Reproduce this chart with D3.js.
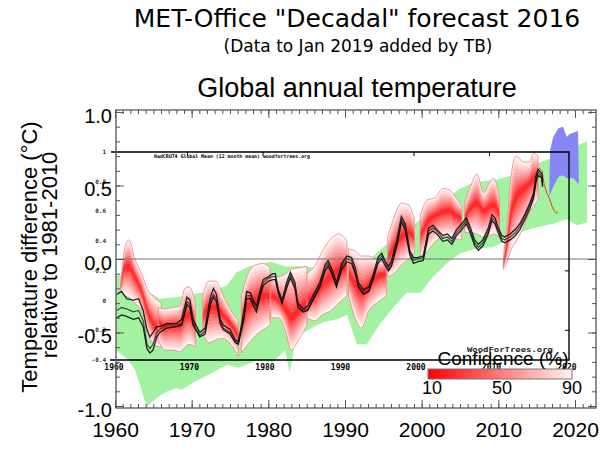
<!DOCTYPE html>
<html>
<head>
<meta charset="utf-8">
<script src="https://cdn.jsdelivr.net/npm/d3@7"></script>
<style>
  body { margin: 0; background: #fff; }
  text { font-family: "Liberation Sans", Arial, sans-serif; }
</style>
</head>
<body>
<script>
// ---- data ----
// obs: year, upper, middle, lower black curves
var obsRows = [
  [1960.1,-0.24,-0.35,-0.40],[1960.75,-0.22,-0.33,-0.38],[1961.4,-0.27,-0.34,-0.39],[1962.3,-0.28,-0.36,-0.41],
  [1963.0,-0.27,-0.35,-0.40],[1963.6,-0.35,-0.42,-0.46],[1964.1,-0.48,-0.58,-0.61],[1964.5,-0.53,-0.61,-0.64],
  [1964.9,-0.50,-0.58,-0.62],[1965.4,-0.46,-0.50,-0.53],[1965.8,-0.46,-0.48,-0.50],[1966.7,-0.44,-0.45,-0.47],
  [1968.0,-0.44,-0.45,-0.46],[1968.7,-0.41,-0.44,-0.45],[1969.4,-0.26,-0.29,-0.31],[1969.8,-0.28,-0.31,-0.33],
  [1970.2,-0.41,-0.43,-0.45],[1971.1,-0.50,-0.52,-0.53],[1971.8,-0.47,-0.49,-0.51],[1972.5,-0.26,-0.29,-0.31],
  [1972.9,-0.20,-0.24,-0.26],[1973.3,-0.24,-0.27,-0.29],[1973.8,-0.41,-0.42,-0.44],[1974.2,-0.45,-0.47,-0.48],
  [1975.1,-0.48,-0.50,-0.51],[1975.8,-0.55,-0.56,-0.57],[1976.2,-0.56,-0.57,-0.58],[1976.9,-0.37,-0.40,-0.42],
  [1977.3,-0.22,-0.25,-0.27],[1977.8,-0.23,-0.25,-0.27],[1978.2,-0.28,-0.30,-0.32],[1978.6,-0.32,-0.34,-0.36],
  [1979.1,-0.21,-0.23,-0.25],[1979.5,-0.14,-0.16,-0.18],[1980.2,-0.12,-0.13,-0.15],[1980.8,-0.10,-0.12,-0.14],
  [1981.1,-0.10,-0.12,-0.14],[1981.5,-0.21,-0.22,-0.23],[1982.0,-0.28,-0.29,-0.30],[1982.6,-0.16,-0.18,-0.20],
  [1983.1,-0.09,-0.11,-0.13],[1983.7,-0.16,-0.18,-0.20],[1984.1,-0.30,-0.31,-0.33],[1984.8,-0.34,-0.35,-0.36],
  [1985.4,-0.32,-0.34,-0.35],[1986.1,-0.25,-0.27,-0.28],[1987.0,-0.16,-0.18,-0.19],[1987.7,-0.04,-0.06,-0.08],
  [1988.1,-0.01,-0.03,-0.05],[1988.6,-0.07,-0.09,-0.10],[1989.2,-0.16,-0.18,-0.19],[1989.9,-0.03,-0.05,-0.07],
  [1990.6,0.02,0.00,-0.02],[1991.2,0.01,-0.01,-0.03],[1991.7,-0.06,-0.08,-0.10],[1992.1,-0.16,-0.18,-0.19],
  [1992.8,-0.21,-0.23,-0.24],[1993.5,-0.19,-0.21,-0.22],[1994.1,-0.10,-0.12,-0.13],[1994.7,0.01,-0.01,-0.03],
  [1995.2,0.04,0.02,0.00],[1995.6,-0.01,-0.02,-0.04],[1996.1,-0.05,-0.07,-0.08],[1996.5,-0.01,-0.03,-0.05],
  [1997.2,0.13,0.11,0.09],[1997.8,0.29,0.27,0.25],[1998.3,0.24,0.22,0.20],[1998.9,0.06,0.05,0.03],
  [1999.4,0.01,-0.01,-0.03],[1999.9,0.01,0.00,-0.02],[2000.7,0.02,0.01,-0.01],[2001.4,0.21,0.19,0.17],
  [2002.0,0.23,0.21,0.19],[2002.5,0.20,0.19,0.17],[2003.3,0.16,0.14,0.12],[2003.9,0.17,0.15,0.13],
  [2004.5,0.14,0.12,0.10],[2005.1,0.20,0.18,0.16],[2005.8,0.24,0.22,0.20],[2006.4,0.28,0.26,0.24],
  [2006.9,0.22,0.20,0.18],[2007.5,0.13,0.11,0.09],[2008.0,0.10,0.08,0.06],[2008.6,0.13,0.11,0.09],
  [2009.3,0.21,0.19,0.17],[2009.8,0.30,0.28,0.26],[2010.2,0.28,0.26,0.24],[2010.6,0.22,0.20,0.18],
  [2011.1,0.16,0.14,0.12],[2011.5,0.15,0.13,0.11],[2012.2,0.17,0.15,0.13],[2012.9,0.20,0.18,0.16],
  [2013.5,0.24,0.22,0.20],[2014.2,0.31,0.29,0.27],[2014.8,0.38,0.36,0.34],[2015.3,0.45,0.43,0.41],
  [2015.6,0.56,0.54,0.52],[2015.9,0.61,0.59,0.57],[2016.4,0.58,0.56,0.55],[2016.5,0.52,0.50,0.49]
];

// WoodForTrees data to Jan 2019 (red)
var wftRows = [
  [2012.2,0.18],[2012.9,0.21],[2013.5,0.25],[2014.2,0.32],[2014.8,0.39],[2015.3,0.46],[2015.6,0.57],
  [2015.9,0.62],[2016.3,0.60],[2016.6,0.50],[2017.0,0.44],[2017.3,0.41],[2017.6,0.36],[2017.9,0.33],
  [2018.2,0.31],[2018.4,0.32]
];

// green band edges
var greenUpper = [
  [1960.0,-0.11],[1961.5,-0.12],[1963.6,-0.20],[1965.8,-0.27],[1968.1,-0.26],[1970.2,-0.24],[1972.5,-0.22],
  [1974.7,-0.18],[1976.0,-0.09],[1977.7,-0.05],[1980.4,-0.02],[1982.4,-0.05],[1984.8,-0.05],[1987.4,-0.07],
  [1991.0,-0.04],[1993.6,0.00],[1995.4,0.08],[1997.0,0.15],[1999.0,0.22],[2001.2,0.30],[2002.5,0.36],
  [2005.6,0.48],[2007.3,0.52],[2010.5,0.54],[2012.6,0.57],[2015.8,0.65],[2017.9,0.69],[2020.5,0.76],[2022.4,0.80]
];
var greenLower = [
  [1960.0,-0.62],[1961.5,-0.68],[1962.5,-0.75],[1963.2,-0.86],[1964.1,-1.01],[1964.6,-0.98],[1965.8,-0.93],
  [1966.8,-0.90],[1968.0,-0.88],[1968.7,-0.89],[1970.2,-0.84],[1972.5,-0.78],[1974.7,-0.72],[1976.2,-0.74],
  [1978.7,-0.69],[1980.8,-0.70],[1982.4,-0.62],[1983.0,-0.77],[1983.7,-0.58],[1984.8,-0.50],[1987.4,-0.43],
  [1989.3,-0.41],[1990.6,-0.38],[1991.9,-0.58],[1993.2,-0.58],[1995.0,-0.44],[1996.7,-0.33],[1998.5,-0.23],
  [2000.3,-0.23],[2002.0,-0.12],[2003.8,-0.03],[2005.6,0.04],[2007.8,0.07],[2009.9,0.08],[2011.8,0.13],
  [2013.5,0.18],[2015.2,0.21],[2017.9,0.24],[2019.7,0.27],[2021.1,0.23],[2022.4,0.25]
];

// blue forecast band: year, low, high
var blueRows = [
  [2017.4,0.42,0.50],[2017.5,0.44,0.74],[2017.9,0.49,0.83],[2018.6,0.56,0.89],[2019.2,0.57,0.90],
  [2019.7,0.55,0.83],[2020.1,0.55,0.85],[2020.6,0.55,0.86],[2021.2,0.51,0.87],[2021.3,0.52,0.55]
];

// hindcast plumes: year, low, centre, high
var plumes = [
  [[1960.6,-0.22,-0.20,-0.18],[1961.2,-0.25,-0.05,0.08],[1961.7,-0.26,-0.05,0.13],[1962.5,-0.30,-0.12,0.00],
   [1963.4,-0.35,-0.22,-0.10],[1964.2,-0.50,-0.36,-0.21],[1965.0,-0.58,-0.45,-0.26],[1966.0,-0.60,-0.48,-0.30]],
  [[1965.6,-0.55,-0.42,-0.33],[1966.5,-0.62,-0.46,-0.34],[1967.5,-0.62,-0.45,-0.33],[1968.5,-0.63,-0.45,-0.32],
   [1969.1,-0.60,-0.40,-0.20],[1969.7,-0.58,-0.38,-0.19],[1970.5,-0.60,-0.45,-0.30]],
  [[1971.5,-0.50,-0.40,-0.25],[1972.3,-0.57,-0.33,-0.15],[1973.2,-0.55,-0.33,-0.15],[1974.2,-0.54,-0.38,-0.25],
   [1975.2,-0.58,-0.44,-0.35],[1976.2,-0.66,-0.52,-0.42]],
  [[1976.6,-0.64,-0.45,-0.25],[1977.5,-0.58,-0.32,-0.10],[1978.5,-0.52,-0.28,-0.04],[1979.5,-0.48,-0.25,-0.03],
   [1980.4,-0.45,-0.25,-0.06]],
  [[1980.5,-0.40,-0.25,-0.10],[1981.5,-0.40,-0.28,-0.12],[1982.5,-0.50,-0.35,-0.10],[1983.2,-0.62,-0.40,-0.07],
   [1984.2,-0.55,-0.35,-0.06],[1985.3,-0.45,-0.30,-0.05]],
  [[1985.3,-0.40,-0.28,-0.10],[1986.3,-0.42,-0.25,-0.05],[1987.3,-0.38,-0.18,0.05],[1988.5,-0.35,-0.12,0.14],
   [1989.5,-0.30,-0.08,0.17],[1990.6,-0.25,-0.05,0.12]],
  [[1990.8,-0.25,-0.10,0.07],[1991.8,-0.42,-0.18,0.05],[1992.5,-0.47,-0.22,0.02],[1993.5,-0.35,-0.18,0.02],
   [1994.5,-0.30,-0.12,0.00],[1995.8,-0.25,-0.10,0.00]],
  [[1996.0,-0.12,0.00,0.15],[1996.8,-0.10,0.08,0.28],[1997.8,-0.04,0.15,0.38],[1998.7,0.00,0.18,0.37],
   [1999.5,0.04,0.15,0.28]],
  [[2000.3,0.02,0.15,0.30],[2001.2,0.05,0.25,0.40],[2002.3,0.12,0.30,0.42],[2003.3,0.15,0.32,0.48],
   [2004.2,0.15,0.33,0.47],[2005.0,0.14,0.30,0.42],[2005.8,0.13,0.28,0.36]],
  [[2006.2,0.18,0.28,0.38],[2007.0,0.18,0.35,0.50],[2007.8,0.17,0.38,0.58],[2008.7,0.15,0.33,0.45],
   [2009.5,0.16,0.36,0.52],[2010.0,0.17,0.37,0.55],[2010.8,0.15,0.30,0.42]],
  [[2011.3,-0.07,-0.04,0.00],[2011.8,-0.02,0.10,0.25],[2012.3,0.06,0.30,0.55],[2013.0,0.12,0.42,0.70],
   [2014.0,0.22,0.48,0.66],[2014.8,0.32,0.52,0.66],[2015.3,0.36,0.55,0.72],[2015.9,0.40,0.57,0.70]]
];

var decades = [1960, 1970, 1980, 1990, 2000, 2010, 2020];
var yLabels = [-1.0, -0.5, 0.0, 0.5, 1.0];
var innerYLabels = [1, 0.8, 0.6, 0.4, 0.2, 0, -0.2, -0.4];
var confTicks = [10, 50, 90];

// ---- layout ----
var W = 614, H = 452;
var frame = {left: 116, right: 596, top: 110, bottom: 408};

var svg = d3.select("body").append("svg")
    .attr("width", W).attr("height", H);

var xOut = d3.scaleLinear().domain([1960, 2020]).range([115, 575]);
var xIn = d3.scaleLinear().domain([1960, 2020]).range([116, 569]);
var y = d3.scaleLinear().domain([-1, 1]).range([406, 112]);
var yIn = d3.scaleLinear().domain([-0.4, 1]).range([360, 152]);
var conf = d3.scaleLinear().domain([10, 90]).range(["#ff0000", "#fff2f2"]);

// titles
svg.append("text").attr("x", 357).attr("y", 27).attr("text-anchor", "middle")
    .style("font-family", "DejaVu Sans").style("font-size", "25px")
    .text('MET-Office "Decadal" forecast 2016');
svg.append("text").attr("x", 358).attr("y", 52).attr("text-anchor", "middle")
    .style("font-family", "DejaVu Sans").style("font-size", "17px")
    .text("(Data to Jan 2019 added by TB)");
svg.append("text").attr("x", 357).attr("y", 97).attr("text-anchor", "middle")
    .style("font-size", "27px")
    .text("Global annual temperature");

// y title
var yt = svg.append("g").attr("transform", "rotate(-90)");
yt.append("text").attr("x", -257).attr("y", 37).attr("text-anchor", "middle")
    .style("font-size", "22px").text("Temperature difference (°C)");
yt.append("text").attr("x", -255).attr("y", 57).attr("text-anchor", "middle")
    .style("font-size", "22px").text("relative to 1981-2010");

var plot = svg.append("g");

// green band
var edge = d3.line().x(function(d) { return xIn(d[0]); }).y(function(d) { return y(d[1]); });
plot.append("path")
    .attr("d", edge(greenUpper.concat(greenLower.slice().reverse())) + "Z")
    .attr("fill", "#a2f2a2");

// blue band
plot.append("path")
    .datum(blueRows)
    .attr("d", d3.area().x(function(d) { return xIn(d[0]); })
        .y0(function(d) { return y(d[1]); }).y1(function(d) { return y(d[2]); }))
    .attr("fill", "#8686f4");

// red plumes, shaded by confidence
var levels = d3.range(10, 0, -1).map(function(k) { return k / 10; });
plumes.forEach(function(p) {
  var g = plot.append("g");
  levels.forEach(function(f) {
    g.append("path").datum(p)
      .attr("d", d3.area().curve(d3.curveMonotoneX)
        .x(function(d) { return xIn(d[0]); })
        .y0(function(d) { return y(d[2] - (d[2] - d[1]) * f); })
        .y1(function(d) { return y(d[2] + (d[3] - d[2]) * f); }))
      .attr("fill", conf(10 + 80 * Math.pow(f, 0.75)));
  });
  g.append("path").datum(p)
    .attr("d", d3.area().curve(d3.curveMonotoneX)
      .x(function(d) { return xIn(d[0]); })
      .y0(function(d) { return y(d[1]); })
      .y1(function(d) { return y(d[3]); }))
    .attr("fill", "none").attr("stroke", "#f28080").attr("stroke-width", 0.8);
});

// zero line
plot.append("line")
    .attr("x1", frame.left).attr("x2", frame.right)
    .attr("y1", y(0)).attr("y2", y(0))
    .attr("stroke", "#777").attr("stroke-width", 1.2);

// red WFT line
plot.append("path").datum(wftRows)
    .attr("d", d3.line().x(function(d) { return xIn(d[0]) + 1; }).y(function(d) { return y(d[1]); }))
    .attr("fill", "none").attr("stroke", "#e04020").attr("stroke-width", 1);

// black observation curves
[1, 2, 3].forEach(function(k) {
  plot.append("path").datum(obsRows)
    .attr("d", d3.line().x(function(d) { return xIn(d[0]); }).y(function(d) { return y(d[k]); }))
    .attr("fill", "none").attr("stroke", k == 2 ? "#333" : "#000")
    .attr("stroke-width", 1.3).attr("stroke-opacity", 0.85);
});

// ---- inner (pasted) frame ----
var inner = svg.append("g");
inner.append("path")
    .attr("d", "M111," + yIn(1) + "H" + xIn(2020) + "V" + yIn(-0.4) + "H110")
    .attr("fill", "none").attr("stroke", "#000").attr("stroke-width", 1.4);
inner.selectAll("line.itop").data([1970, 1980, 2000, 2010]).enter().append("line")
    .attr("x1", function(d) { return xIn(d) - 4; }).attr("x2", function(d) { return xIn(d) - 4; })
    .attr("y1", yIn(1)).attr("y2", yIn(1) + 4).attr("stroke", "#000");
inner.selectAll("line.iright").data([0.2, -0.2]).enter().append("line")
    .attr("x1", xIn(2020)).attr("x2", xIn(2020) - 4)
    .attr("y1", function(d) { return yIn(d); }).attr("y2", function(d) { return yIn(d); })
    .attr("stroke", "#000");
inner.selectAll("text.ix").data(decades).enter().append("text")
    .attr("x", function(d) { return xIn(d) - 2; }).attr("y", 370)
    .attr("text-anchor", "middle")
    .style("font-family", "DejaVu Sans Mono").style("font-weight", "bold").style("font-size", "8px")
    .text(function(d) { return d; });
inner.selectAll("text.iy").data(innerYLabels).enter().append("text")
    .attr("x", 106).attr("y", function(d) { return yIn(d) + 2; })
    .attr("text-anchor", "end")
    .style("font-family", "DejaVu Sans Mono").style("font-weight", "bold").style("font-size", "6px")
    .attr("fill", "#333")
    .text(function(d) { return d; });
inner.append("text").attr("x", 154).attr("y", 158).attr("textLength", 156)
    .attr("lengthAdjust", "spacingAndGlyphs")
    .style("font-family", "DejaVu Sans Mono").style("font-weight", "bold").style("font-size", "5px")
    .text("HadCRUT4 Global Mean (12 month mean) woodfortrees.org");
inner.append("text").attr("x", 467).attr("y", 352).attr("textLength", 86)
    .attr("lengthAdjust", "spacingAndGlyphs")
    .style("font-family", "DejaVu Sans Mono").style("font-weight", "bold").style("font-size", "7px")
    .attr("fill", "#222")
    .text("WoodForTrees.org");

// ---- legend ----
var grad = svg.append("defs").append("linearGradient").attr("id", "confgrad");
d3.range(10, 91, 10).forEach(function(c) {
  grad.append("stop").attr("offset", ((c - 10) / 80 * 100) + "%").attr("stop-color", conf(c));
});
var lx = d3.scaleLinear().domain([10, 90]).range([432, 572]);
svg.append("rect").attr("x", 428).attr("y", 369).attr("width", 144).attr("height", 10)
    .attr("fill", "url(#confgrad)").attr("stroke", "#777").attr("stroke-width", 1);
svg.append("text").attr("x", 503).attr("y", 365).attr("text-anchor", "middle")
    .style("font-size", "19px").text("Confidence (%)");
svg.selectAll("text.ct").data(confTicks).enter().append("text")
    .attr("x", function(d) { return lx(d); }).attr("y", 394).attr("text-anchor", "middle")
    .style("font-size", "18px").text(function(d) { return d; });

// ---- outer axes ----
var axisCol = "#555";
var years = d3.range(1960, 2023);
var tenths = d3.range(-10, 11).map(function(k) { return k / 10; });

function styleAxis(g) {
  g.select(".domain").remove();
  g.selectAll("line").attr("stroke", axisCol);
}
svg.append("g").attr("transform", "translate(0," + frame.bottom + ")")
    .call(d3.axisBottom(xOut).tickValues(years).tickSize(-4).tickFormat("")).call(styleAxis);
svg.append("g").attr("transform", "translate(0," + frame.top + ")")
    .call(d3.axisTop(xOut).tickValues(years).tickSize(-4).tickFormat("")).call(styleAxis);
svg.append("g").attr("transform", "translate(0," + frame.top + ")")
    .call(d3.axisTop(xOut).tickValues(decades).tickSize(-8).tickFormat("")).call(styleAxis);
var xb = svg.append("g").attr("transform", "translate(0," + frame.bottom + ")")
    .call(d3.axisBottom(xOut).tickValues(decades).tickSize(-8).tickFormat(d3.format("d")))
    .call(styleAxis);
xb.selectAll("text").attr("y", 29).attr("dy", null)
    .style("font-size", "21px").style("font-family", "Liberation Sans").attr("fill", "#000");

svg.append("g").attr("transform", "translate(" + frame.left + ",0)")
    .call(d3.axisLeft(y).tickValues(tenths).tickSize(-4).tickFormat("")).call(styleAxis);
svg.append("g").attr("transform", "translate(" + frame.right + ",0)")
    .call(d3.axisRight(y).tickValues(tenths).tickSize(-4).tickFormat("")).call(styleAxis);
svg.append("g").attr("transform", "translate(" + frame.right + ",0)")
    .call(d3.axisRight(y).tickValues(yLabels).tickSize(-8).tickFormat("")).call(styleAxis);
var yl = svg.append("g").attr("transform", "translate(" + frame.left + ",0)")
    .call(d3.axisLeft(y).tickValues(yLabels).tickSize(-8)
      .tickFormat(function(d) { return d.toFixed(1); }))
    .call(styleAxis);
yl.selectAll("text").attr("x", -4).attr("dy", "0.52em")
    .style("font-size", "20px").style("font-family", "Liberation Sans").attr("fill", "#000");

// frame
svg.append("rect")
    .attr("x", frame.left).attr("y", frame.top)
    .attr("width", frame.right - frame.left).attr("height", frame.bottom - frame.top)
    .attr("fill", "none").attr("stroke", axisCol).attr("stroke-width", 1.3);
</script>
</body>
</html>
